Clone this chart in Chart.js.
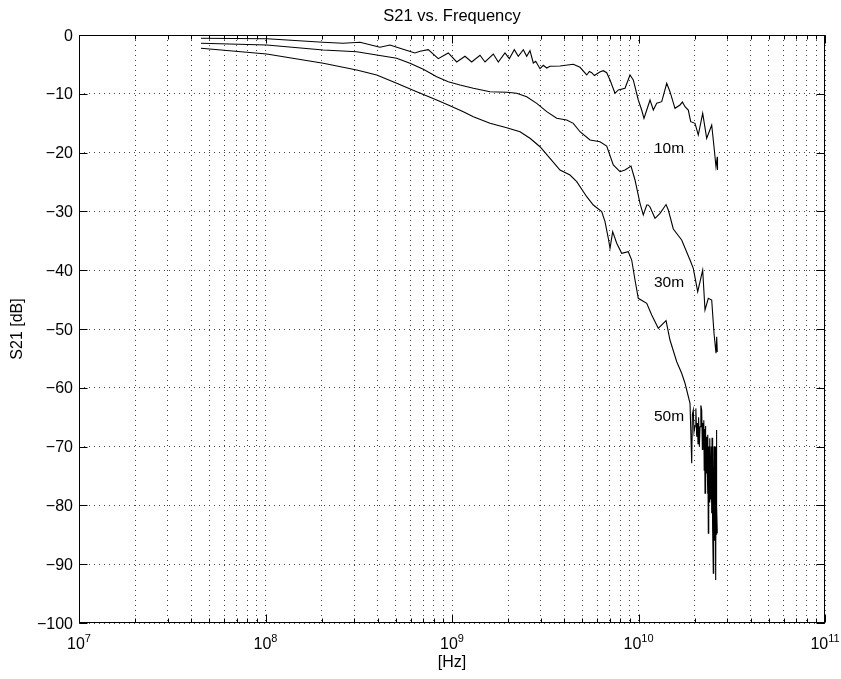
<!DOCTYPE html>
<html lang="en">
<head>
<meta charset="UTF-8">
<title>S21 vs. Frequency</title>
<script src="https://cdn.jsdelivr.net/npm/chart.js@4.4.0/dist/chart.umd.min.js"></script>
<style>
  html, body { margin: 0; padding: 0; background: #fff; }
  #caixa { width: 841px; height: 679px; position: relative; }
</style>
</head>
<body>
<div id="caixa"><canvas id="grafico"></canvas></div>
<script>
// frequencias em GHz, S21 em dB
const freq10m = [0.0451, 0.102, 0.203, 0.260, 0.321, 0.411, 0.465, 0.526, 0.633, 0.674, 0.746, 0.844, 0.955, 1.060, 1.174, 1.275, 1.413, 1.503, 1.665, 1.771, 1.924, 2.029, 2.158, 2.267, 2.412, 2.515, 2.619, 2.729, 2.811, 2.964, 3.087, 3.220, 3.354, 3.794, 4.471, 4.857, 5.277, 5.45, 5.612, 5.80, 5.969, 6.20, 6.476, 6.753, 7.035, 7.482, 7.793, 8.466, 9.004, 9.378, 9.975, 10.40, 10.70, 11.07, 11.53, 12.01, 12.52, 13.32, 14.17, 14.75, 15.69, 16.69, 17.2, 17.76, 18.49, 19.05, 20.09, 20.92, 22.09, 23.21, 24.69, 25.40, 26.03, 26.45, 26.52];
const s21_10m = [-0.56, -0.63, -1.24, -1.41, -1.24, -2.09, -1.70, -2.26, -3.06, -2.77, -2.50, -4.03, -3.06, -4.59, -3.62, -4.59, -3.45, -4.59, -3.23, -4.59, -3.06, -4.03, -2.50, -3.62, -2.50, -3.62, -2.67, -4.76, -4.47, -5.73, -5.15, -5.61, -5.32, -5.27, -4.98, -5.49, -6.80, -6.2, -6.41, -6.9, -6.63, -6.3, -6.07, -6.41, -7.65, -9.91, -9.35, -9.06, -6.80, -7.65, -11.05, -12.76, -14.17, -12.76, -11.05, -12.76, -11.62, -11.34, -8.21, -9.64, -12.47, -11.90, -11.4, -12.19, -12.76, -14.74, -15.02, -17.01, -13.32, -17.57, -15.31, -19.0, -22.4, -20.7, -22.96];

const freq30m = [0.0451, 0.1015, 0.2041, 0.3083, 0.3948, 0.5051, 0.5953, 0.7018, 0.8279, 0.955, 1.104, 1.301, 1.599, 1.965, 2.223, 2.515, 2.846, 3.220, 3.642, 4.121, 4.471, 4.857, 5.495, 6.218, 6.753, 7.325, 7.958, 8.466, 9.116, 9.577, 10.19, 10.61, 11.07, 11.28, 11.53, 12.26, 13.04, 14.05, 14.45, 15.37, 17.04, 18.89, 19.67, 20.77, 22.09, 22.73, 23.68, 24.69, 25.40, 26.03, 26.26, 26.45];
const s21_30m = [-1.41, -1.70, -2.55, -2.84, -3.40, -3.96, -4.81, -5.83, -7.09, -7.94, -8.50, -9.06, -9.64, -9.74, -9.91, -10.49, -11.62, -13.04, -14.17, -14.46, -15.02, -16.45, -17.86, -18.15, -18.88, -22.11, -23.25, -22.96, -22.28, -24.66, -28.62, -30.61, -28.91, -28.91, -29.25, -31.17, -30.32, -28.83, -29.76, -32.99, -34.86, -38.27, -39.68, -43.66, -39.97, -46.77, -44.78, -45.07, -50.73, -54.13, -51.31, -53.91];

const freq50m = [0.0451, 0.1015, 0.2041, 0.3083, 0.3948, 0.5051, 0.6468, 0.8279, 0.955, 1.150, 1.301, 1.599, 1.965, 2.316, 2.619, 2.964, 3.354, 3.794, 4.293, 4.664, 5.277, 5.724, 6.349, 6.613, 6.888, 7.035, 7.271, 7.641, 8.126, 8.816, 9.194, 9.577, 9.975, 11.07, 11.77, 12.77, 14.05, 14.75, 16.03, 17.04, 17.76, 18.89,
    19.29, 19.45, 19.67, 19.85, 20.1, 20.3, 20.52, 20.7, 20.85, 21.0, 21.2, 21.37, 21.6, 21.82, 22.0, 22.13, 22.26, 22.4, 22.5, 22.62, 22.73, 22.85, 22.95, 23.1, 23.21, 23.35, 23.45, 23.58, 23.68, 23.8, 23.9, 24.05, 24.17, 24.3, 24.4, 24.55, 24.69, 24.8, 24.9, 25.05, 25.18, 25.3, 25.4, 25.49, 25.6, 25.7, 25.8, 25.93, 26.05, 26.1, 26.2, 26.26, 26.35, 26.45];
const s21_50m = [-2.26, -3.23, -4.81, -5.95, -6.80, -8.21, -9.64, -11.05, -11.90, -13.04, -13.89, -15.02, -15.77, -16.45, -17.57, -19.0, -20.97, -22.96, -23.81, -24.95, -27.50, -28.91, -30.05, -31.75, -34.57, -36.28, -33.45, -35.42, -37.13, -36.85, -38.27, -41.67, -44.78, -45.63, -47.62, -49.88, -48.59, -51.87, -55.56, -57.53, -59.23, -62.64,
    -72.84, -64.5, -63.78, -67.5, -66.5, -63.5, -68.32, -66.0, -69.5, -65.0, -70.0, -66.62, -63.0, -63.78, -70.5, -66.0, -70.02, -65.5, -74.0, -67.0, -77.94, -66.5, -69.0, -74.5, -68.32, -73.0, -78.0, -68.0, -84.74, -70.0, -72.0, -79.5, -68.59, -76.0, -79.0, -70.0, -81.34, -68.5, -73.0, -84.0, -91.55, -75.0, -70.0, -72.28, -86.0, -83.0, -70.0, -92.69, -73.0, -75.0, -85.0, -67.18, -80.0, -84.74];

// rotulos das curvas (posicao em GHz / dB)
const nomesCurvas = ['10m', '30m', '50m'];
const rotuloFreq = [12.1, 12.1, 12.1];
const rotuloDb = [-19.4, -42.2, -65.0];

// eixos
const yTicks = [0, -10, -20, -30, -40, -50, -60, -70, -80, -90, -100];
const xDecadas = [1e7, 1e8, 1e9, 1e10, 1e11];
const xExpoentes = ['7', '8', '9', '10', '11'];
const xMultiplos = [1, 2, 3, 4, 5, 6, 7, 8, 9];

const titulo = 'S21 vs. Frequency';
const tituloX = '[Hz]';
const tituloY = 'S21 [dB]';

const fonte = '"Liberation Sans", Arial, Helvetica, sans-serif';

function montarPontos(freqs, valores) {
    const pontos = [];
    for (let i = 0; i < freqs.length; i++) {
        pontos.push({ x: freqs[i] * 1e9, y: valores[i] });
    }
    return pontos;
}

function serie(nome, freqs, valores) {
    return {
        label: nome,
        data: montarPontos(freqs, valores),
        borderColor: '#000',
        borderWidth: 1.1,
        pointRadius: 0,
        tension: 0,
        fill: false
    };
}

// desenha moldura, marcas, textos (estilo matlab)
const moldura = {
    id: 'moldura',
    afterDraw(chart) {
        const ctx = chart.ctx;
        const a = chart.chartArea;
        const sx = chart.scales.x;
        const sy = chart.scales.y;
        const L = Math.round(a.left) + 0.5, R = Math.round(a.right) - 0.5;
        const T = Math.round(a.top) + 0.5, B = Math.round(a.bottom) - 0.5;

        ctx.save();
        ctx.strokeStyle = '#000';
        ctx.lineWidth = 1;
        ctx.beginPath();
        // marcas x (para dentro, em baixo e em cima)
        for (let d = 0; d < xDecadas.length; d++) {
            for (let m = 0; m < xMultiplos.length; m++) {
                const v = xDecadas[d] * xMultiplos[m];
                if (v > xDecadas[xDecadas.length - 1]) continue;
                const px = Math.round(sx.getPixelForValue(v)) + 0.5;
                const len = xMultiplos[m] === 1 ? 8 : 4;
                ctx.moveTo(px, B); ctx.lineTo(px, B - len);
                ctx.moveTo(px, T); ctx.lineTo(px, T + len);
            }
        }
        // marcas y
        yTicks.forEach(v => {
            const py = Math.round(sy.getPixelForValue(v)) + 0.5;
            ctx.moveTo(L, py); ctx.lineTo(L + 8, py);
            ctx.moveTo(R, py); ctx.lineTo(R - 8, py);
        });
        ctx.stroke();
        ctx.strokeRect(L, T, R - L, B - T);

        ctx.fillStyle = '#000';
        // rotulos y
        ctx.font = '16px ' + fonte;
        ctx.textAlign = 'right';
        ctx.textBaseline = 'alphabetic';
        yTicks.forEach(v => {
            const py = sy.getPixelForValue(v);
            const txt = v < 0 ? '\u2212' + Math.abs(v) : String(v);
            ctx.fillText(txt, a.left - 6, py + 5.5);
        });

        // rotulos x: 10 com expoente
        ctx.textAlign = 'left';
        xDecadas.forEach((v, i) => {
            const px = sx.getPixelForValue(v);
            ctx.font = '16px ' + fonte;
            const wBase = ctx.measureText('10').width;
            ctx.font = '11px ' + fonte;
            const wExp = ctx.measureText(xExpoentes[i]).width;
            const x0 = px - (wBase + wExp) / 2;
            ctx.font = '16px ' + fonte;
            ctx.fillText('10', x0, a.bottom + 26);
            ctx.font = '11px ' + fonte;
            ctx.fillText(xExpoentes[i], x0 + wBase, a.bottom + 19);
        });

        // titulo e eixos
        ctx.font = '16.5px ' + fonte;
        ctx.textAlign = 'center';
        ctx.fillText(titulo, (a.left + a.right) / 2, 21);
        ctx.font = '16px ' + fonte;
        ctx.fillText(tituloX, (a.left + a.right) / 2, a.bottom + 44);
        ctx.save();
        ctx.translate(22, (a.top + a.bottom) / 2);
        ctx.rotate(-Math.PI / 2);
        ctx.fillText(tituloY, 0, 0);
        ctx.restore();

        // nomes das curvas
        ctx.font = '15.5px ' + fonte;
        ctx.textAlign = 'left';
        ctx.textBaseline = 'middle';
        nomesCurvas.forEach((n, i) => {
            ctx.fillText(n, sx.getPixelForValue(rotuloFreq[i] * 1e9), sy.getPixelForValue(rotuloDb[i]));
        });
        ctx.restore();
    }
};

const config = {
    type: 'line',
    data: {
        datasets: [
            serie('10m', freq10m, s21_10m),
            serie('30m', freq30m, s21_30m),
            serie('50m', freq50m, s21_50m)
        ]
    },
    options: {
        responsive: true,
        maintainAspectRatio: false,
        animation: false,
        layout: { padding: { left: 79, right: 16, top: 35, bottom: 56 } },
        plugins: { legend: { display: false }, tooltip: { enabled: false } },
        scales: {
            x: {
                type: 'logarithmic',
                min: xDecadas[0],
                max: xDecadas[xDecadas.length - 1],
                afterBuildTicks(scale) {
                    const t = [];
                    xDecadas.forEach(d => {
                        xMultiplos.forEach(m => {
                            if (d * m <= xDecadas[xDecadas.length - 1]) t.push({ value: d * m });
                        });
                    });
                    scale.ticks = t;
                },
                ticks: { display: false },
                grid: { color: '#444', lineWidth: 1, drawTicks: false },
                border: { display: false, dash: [1, 4] }
            },
            y: {
                type: 'linear',
                min: -100,
                max: 0,
                ticks: { display: false, stepSize: 10 },
                grid: { color: '#444', lineWidth: 1, drawTicks: false },
                border: { display: false, dash: [1, 4] }
            }
        }
    },
    plugins: [moldura]
};

new Chart(document.getElementById('grafico'), config);
</script>
</body>
</html>
